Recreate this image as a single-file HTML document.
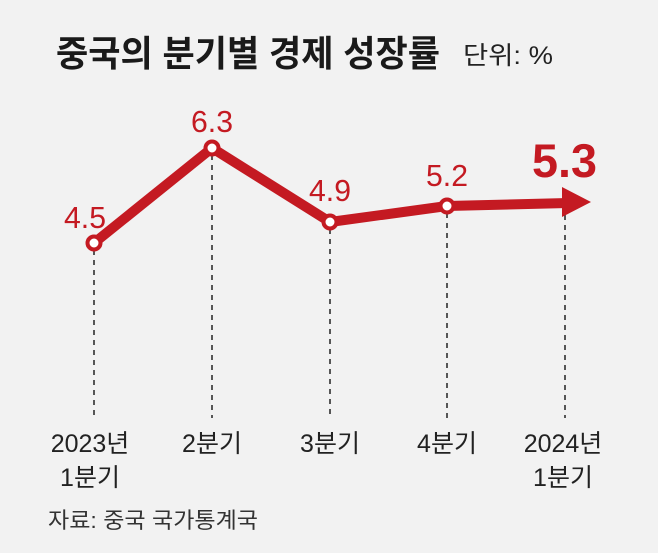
<!DOCTYPE html>
<html><head><meta charset="utf-8"><style>
html,body{margin:0;padding:0;background:#f2f2f2;}
svg text{font-family:"Liberation Sans","Noto Sans CJK KR",sans-serif;}
</style></head><body>
<svg width="658" height="548" xmlns="http://www.w3.org/2000/svg">
<rect width="658" height="548" fill="#f2f2f2"/>
<text x="56" y="66" font-size="36" font-weight="bold" fill="#1a1a1a" textLength="384" lengthAdjust="spacingAndGlyphs">중국의 분기별 경제 성장률</text>
<text x="463" y="64" font-size="25" fill="#222" textLength="90" lengthAdjust="spacingAndGlyphs">단위: %</text>
<g stroke="#222" stroke-width="1.5" stroke-dasharray="5,5">
<line x1="94" y1="250" x2="94" y2="418"/>
<line x1="212" y1="155" x2="212" y2="418"/>
<line x1="330" y1="229" x2="330" y2="418"/>
<line x1="447" y1="213" x2="447" y2="418"/>
<line x1="565" y1="215" x2="565" y2="418"/>
</g>
<polyline points="94,243 212,148 330,222 447,206 568,203" fill="none" stroke="#c41a22" stroke-width="10" stroke-linejoin="round"/>
<polygon points="562,187 591,202 562,217" fill="#c41a22"/>
<g fill="#fff" stroke="#c41a22" stroke-width="4">
<circle cx="94" cy="243" r="6.5"/><circle cx="212" cy="148" r="6.5"/><circle cx="330" cy="222" r="6.5"/><circle cx="447" cy="206" r="6.5"/>
</g>
<g fill="#c41a22" font-size="31" lengthAdjust="spacingAndGlyphs">
<text x="64" y="228" textLength="42" lengthAdjust="spacingAndGlyphs">4.5</text>
<text x="191" y="132" textLength="42" lengthAdjust="spacingAndGlyphs">6.3</text>
<text x="309" y="201" textLength="42" lengthAdjust="spacingAndGlyphs">4.9</text>
<text x="426" y="186" textLength="42" lengthAdjust="spacingAndGlyphs">5.2</text>
<text x="532" y="177" font-size="47" font-weight="bold" textLength="65" lengthAdjust="spacingAndGlyphs">5.3</text>
</g>
<g fill="#222" font-size="25" text-anchor="middle">
<text x="90" y="452">2023년</text><text x="90" y="486">1분기</text>
<text x="212" y="452">2분기</text>
<text x="330" y="452">3분기</text>
<text x="447" y="452">4분기</text>
<text x="563" y="452">2024년</text><text x="563" y="486">1분기</text>
</g>
<text x="48" y="528" font-size="22" fill="#333" textLength="210" lengthAdjust="spacingAndGlyphs">자료: 중국 국가통계국</text>
</svg>
</body></html>
